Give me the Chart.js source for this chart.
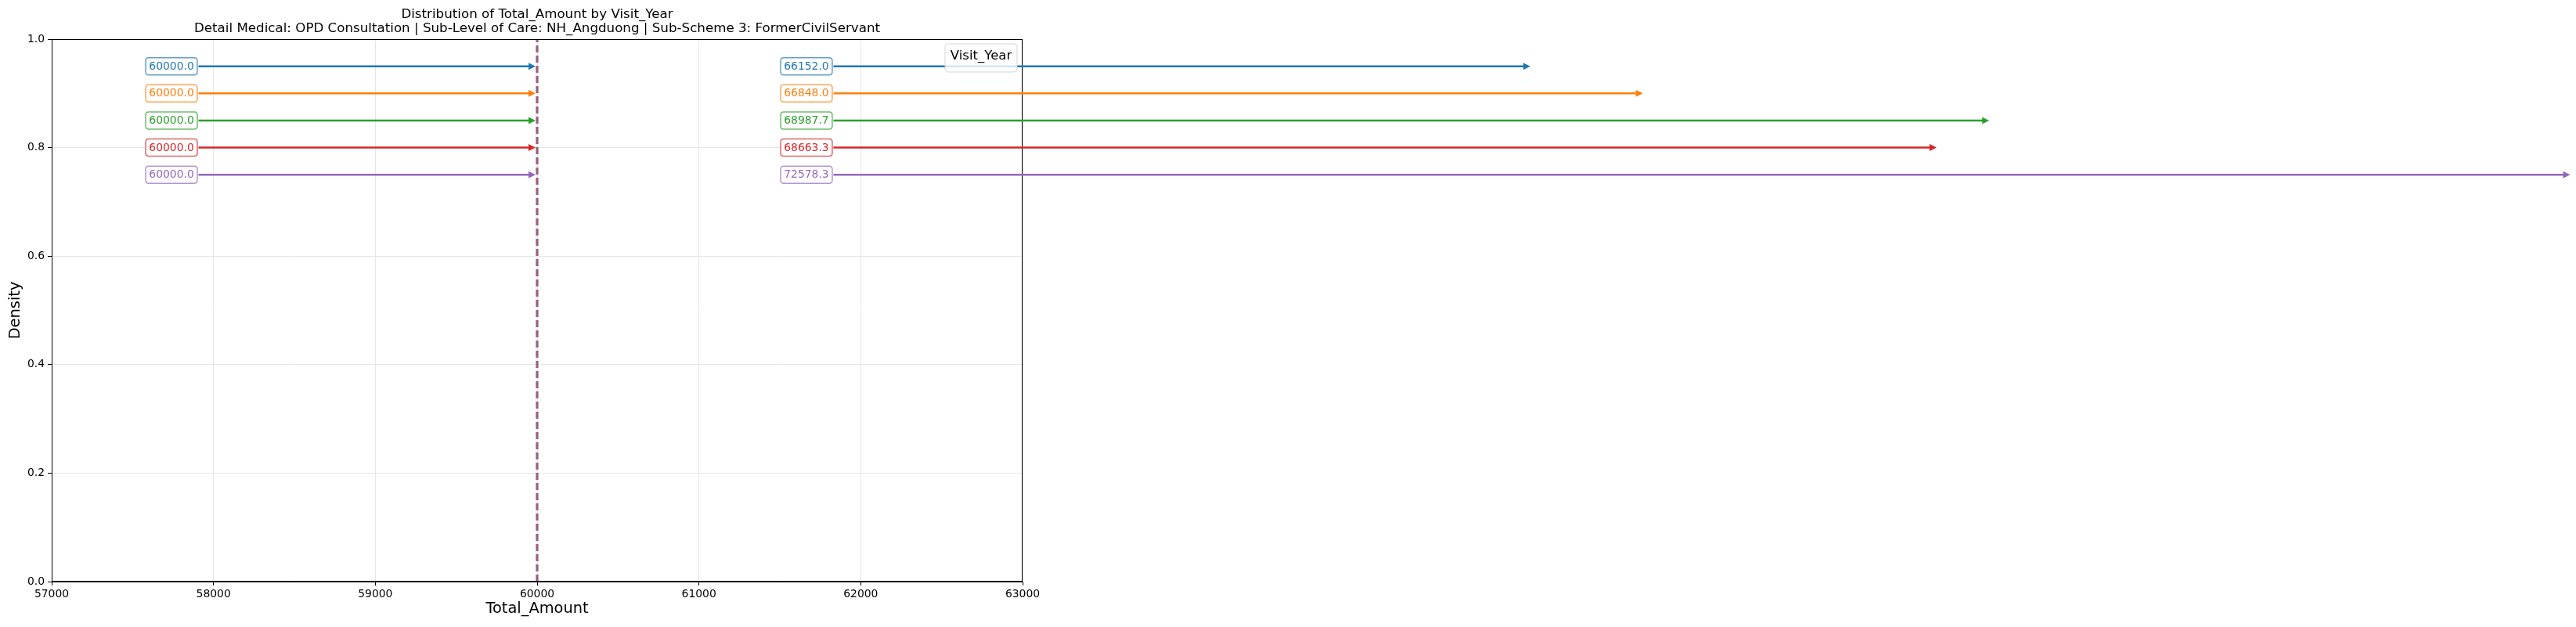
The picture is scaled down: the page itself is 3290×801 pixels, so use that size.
<!DOCTYPE html>
<html>
<head>
<meta charset="utf-8">
<title>Distribution of Total_Amount by Visit_Year</title>
<script src="https://cdn.jsdelivr.net/npm/chart.js@4.4.0/dist/chart.umd.min.js"></script>
<style>
  html, body { margin: 0; padding: 0; background: #ffffff; }
  #wrap { width: 3290px; height: 801px; }
</style>
</head>
<body>
<div id="wrap"><canvas id="distChart" width="3290" height="801"></canvas></div>
<script>
// values
const seriesColors = ["#1f77b4", "#ff7f0e", "#2ca02c", "#d62728", "#9467bd"];
const medianValues = [60000.0, 60000.0, 60000.0, 60000.0, 60000.0];
const meanValues = [66152.0, 66848.0, 68987.7, 68663.3, 72578.3];
const arrowLevels = [0.95, 0.90, 0.85, 0.80, 0.75];
const xRange = [57000, 63000];
const yRange = [0, 1];
const titleLines = [
  "Distribution of Total_Amount by Visit_Year",
  "Detail Medical: OPD Consultation | Sub-Level of Care: NH_Angduong | Sub-Scheme 3: FormerCivilServant"
];
const legendTitle = "Visit_Year";

const FONT = "'DejaVu Sans', 'Liberation Sans', sans-serif";

function withAlpha(hex, a) {
  const n = parseInt(hex.slice(1), 16);
  return "rgba(" + (n >> 16) + "," + ((n >> 8) & 255) + "," + (n & 255) + "," + a + ")";
}

// dashed median lines, one per year (they all sit on top of each other)
// order: later years drawn on top, like the reference
const medianSets = medianValues.map(function (v, i) {
  return {
    label: "median " + i,
    data: [{ x: v, y: yRange[0] }, { x: v, y: yRange[1] }],
    borderColor: withAlpha(seriesColors[i], 0.7),
    borderWidth: 2.5,
    borderDash: [9, 4],
    pointRadius: 0,
    fill: false,
    order: -i
  };
});

function roundBox(ctx, x, y, w, h, r) {
  ctx.beginPath();
  ctx.moveTo(x + r, y);
  ctx.lineTo(x + w - r, y);
  ctx.quadraticCurveTo(x + w, y, x + w, y + r);
  ctx.lineTo(x + w, y + h - r);
  ctx.quadraticCurveTo(x + w, y + h, x + w - r, y + h);
  ctx.lineTo(x + r, y + h);
  ctx.quadraticCurveTo(x, y + h, x, y + h - r);
  ctx.lineTo(x, y + r);
  ctx.quadraticCurveTo(x, y, x + r, y);
  ctx.closePath();
}

function drawArrow(ctx, x0, x1, y, color) {
  const head = 9, half = 4.5;
  ctx.strokeStyle = color;
  ctx.fillStyle = color;
  ctx.lineWidth = 2.5;
  ctx.beginPath();
  ctx.moveTo(x0, y);
  ctx.lineTo(x1 - head + 1, y);
  ctx.stroke();
  ctx.beginPath();
  ctx.moveTo(x1, y);
  ctx.lineTo(x1 - head, y - half);
  ctx.lineTo(x1 - head, y + half);
  ctx.closePath();
  ctx.fill();
}

function drawLabel(ctx, cx, cy, text, color) {
  ctx.font = "13.9px " + FONT;
  const w = ctx.measureText(text).width + 8.5;
  const h = 22;
  roundBox(ctx, cx - w / 2, cy - h / 2, w, h, 4);
  ctx.fillStyle = "#ffffff";
  ctx.fill();
  ctx.lineWidth = 1.5;
  ctx.strokeStyle = withAlpha(color, 0.7);
  ctx.stroke();
  ctx.fillStyle = color;
  ctx.textAlign = "center";
  ctx.textBaseline = "middle";
  ctx.fillText(text, cx, cy + 0.5);
  return cx + w / 2;
}

const annotate = {
  id: "annotate",
  afterDraw: function (chart) {
    const ctx = chart.ctx;
    const area = chart.chartArea;
    const xs = chart.scales.x, ys = chart.scales.y;
    ctx.save();

    // spines
    ctx.strokeStyle = "#000000";
    ctx.lineWidth = 1;
    const l = Math.round(area.left) + 0.5, t = Math.round(area.top) + 0.5;
    const r = Math.round(area.right) - 0.5, b = Math.round(area.bottom) - 0.5;
    ctx.strokeRect(l, t, r - l, b - t);

    // title
    const cx = (area.left + area.right) / 2;
    ctx.fillStyle = "#000000";
    ctx.font = "16.7px " + FONT;
    ctx.textAlign = "center";
    ctx.textBaseline = "alphabetic";
    ctx.fillText(titleLines[0], cx, 22.5);
    ctx.fillText(titleLines[1], cx, 41);

    // arrows + value boxes
    const width = area.right - area.left;
    const leftBoxX = area.left + 0.1234 * width;
    const rightBoxX = area.left + 0.7774 * width;
    for (let i = 0; i < arrowLevels.length; i++) {
      const y = ys.getPixelForValue(arrowLevels[i]);
      const c = seriesColors[i];
      const e1 = drawLabel(ctx, leftBoxX, y, medianValues[i].toFixed(1), c);
      drawArrow(ctx, e1 + 1.5, xs.getPixelForValue(medianValues[i]) - 2, y, c);
      const e2 = drawLabel(ctx, rightBoxX, y, meanValues[i].toFixed(1), c);
      drawArrow(ctx, e2 + 1.5, xs.getPixelForValue(meanValues[i]) - 3, y, c);
    }

    // legend (title only)
    const lw = 92, lh = 36;
    const lx = area.right - 7 - lw, ly = area.top + 6;
    roundBox(ctx, lx, ly, lw, lh, 4);
    ctx.fillStyle = "rgba(255,255,255,0.8)";
    ctx.fill();
    ctx.lineWidth = 1;
    ctx.strokeStyle = "rgba(204,204,204,0.8)";
    ctx.stroke();
    ctx.fillStyle = "#000000";
    ctx.font = "16.5px " + FONT;
    ctx.textAlign = "center";
    ctx.textBaseline = "alphabetic";
    ctx.fillText(legendTitle, lx + lw / 2, ly + 19.5);

    ctx.restore();
  }
};

const ctx = document.getElementById("distChart").getContext("2d");
const distChart = new Chart(ctx, {
  type: "line",
  data: { datasets: medianSets },
  options: {
    responsive: false,
    animation: false,
    devicePixelRatio: 1,
    layout: { padding: { top: 50, right: 1984, left: 0, bottom: 0 } },
    plugins: {
      legend: { display: false },
      title: { display: false },
      tooltip: { enabled: false }
    },
    scales: {
      x: {
        type: "linear",
        min: xRange[0],
        max: xRange[1],
        afterFit: function (scale) { scale.height = 58; },
        ticks: {
          stepSize: 1000,
          color: "#000000",
          padding: 3,
          maxRotation: 0,
          font: { family: FONT, size: 13.9 },
          callback: function (v) { return String(v); }
        },
        grid: { color: "#e6e6e6", lineWidth: 1, tickColor: "#000000", tickLength: 5, tickWidth: 1 },
        border: { color: "#000000", width: 1 },
        title: {
          display: true,
          text: "Total_Amount",
          color: "#000000",
          font: { family: FONT, size: 19.4 },
          padding: { top: 0, bottom: 11 }
        }
      },
      y: {
        type: "linear",
        min: yRange[0],
        max: yRange[1],
        afterFit: function (scale) { scale.width = 66; },
        ticks: {
          stepSize: 0.2,
          color: "#000000",
          padding: 4,
          font: { family: FONT, size: 13.9 },
          callback: function (v) { return v.toFixed(1); }
        },
        grid: { color: "#e6e6e6", lineWidth: 1, tickColor: "#000000", tickLength: 5, tickWidth: 1 },
        border: { color: "#000000", width: 1 },
        title: {
          display: true,
          text: "Density",
          color: "#000000",
          font: { family: FONT, size: 19.4 },
          padding: { top: 8, bottom: 0 }
        }
      }
    }
  },
  plugins: [annotate]
});
</script>
</body>
</html>
